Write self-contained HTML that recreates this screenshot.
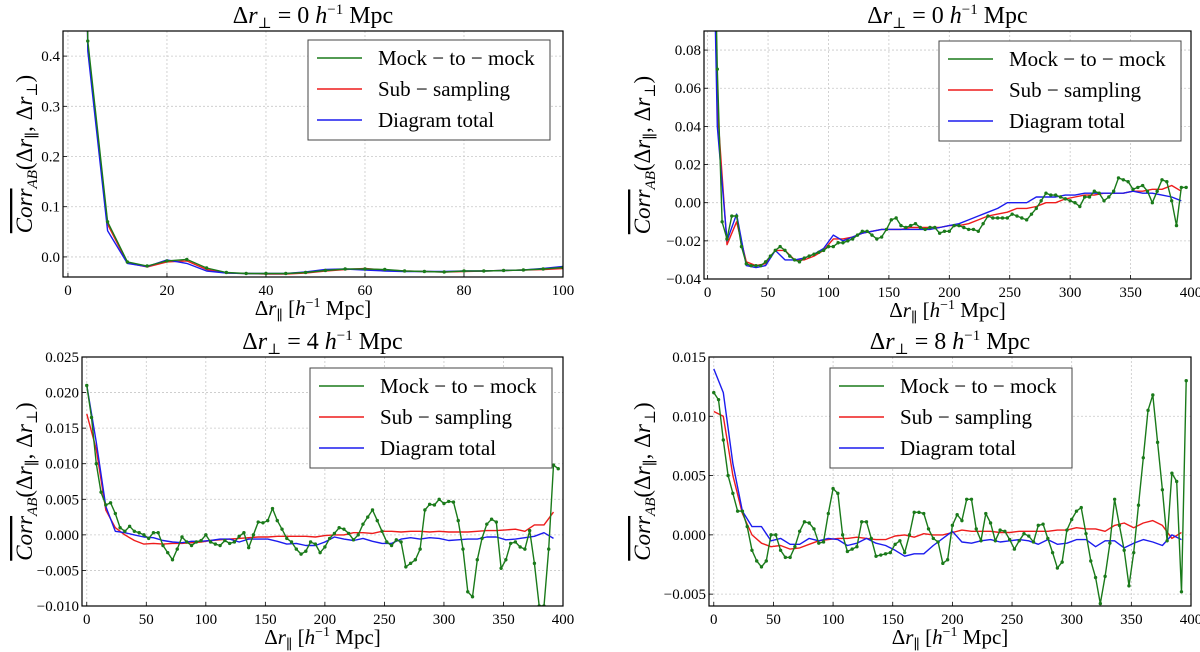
<!DOCTYPE html>
<html><head><meta charset="utf-8"><style>
html,body{margin:0;padding:0;background:#fff}
svg{display:block}
svg text, svg tspan{font-family:"Liberation Serif","DejaVu Serif",serif}
</style></head><body>
<svg id="fig" width="1200" height="652" viewBox="0 0 1200 652" xmlns="http://www.w3.org/2000/svg" font-family="'Liberation Serif', 'DejaVu Serif', serif"></svg>
<script>
// ---- Data (values in units of 1e-3) ----
const tlMock = [3000,430,70,-10,-18,-8,-5,-22,-31,-33,-33,-33,-31,-27,-24,-24,-25,-28,-29,-30,-28,-28,-27,-26,-24,-21];
const tlSub  = [3000,420,65,-12,-20,-10,-8,-25,-32,-33,-34,-34,-32,-28,-25,-23,-26,-28,-29,-30,-29,-28,-27,-26,-25,-23];
const tlDiag = [3000,410,52,-13,-19,-6,-13,-28,-32,-33,-33,-33,-30,-25,-24,-26,-28,-29,-29,-29,-28,-28,-27,-26,-23,-19];
const trMock = [300,200,70,-10,-19,-7,-7,-23,-32,-33,-33,-33,-31,-28,-25,-23,-25,-28,-30,-31,-29,-28,-27,-26,-25,-23,-23,-21,-21,-20,-19,-17,-15,-15,-17,-19,-18,-14,-9,-8,-12,-13,-12,-11,-13,-14,-13,-13,-16,-15,-15,-12,-12,-13,-14,-14,-15,-11,-7,-8,-8,-8,-8,-6,-7,-8,-9,-6,-3,1,5,4,4,3,2,1,0,-2,3,3,6,5,1,3,6,13,12,11,7,8,9,6,0,6,12,11,1,-12,8,8];
const trSub  = [300,50,-22,-10,-31,-33,-32,-25,-25,-30,-30,-28,-25,-19,-19,-18,-16,-15,-14,-14,-14,-13,-13,-13,-13,-12,-12,-11,-9,-7,-6,-5,-3,-3,-2,0,0,2,3,4,4,5,5,5,6,6,7,7,9,6];
const trDiag = [300,40,-20,-6,-33,-34,-33,-25,-30,-30,-29,-27,-24,-17,-20,-18,-16,-15,-14,-14,-14,-14,-14,-14,-13,-12,-11,-9,-7,-5,-3,0,0,0,3,3,3,4,4,5,5,5,5,5,6,5,5,4,3,1];
const blMock = [21,16.5,10,6,4.2,4.5,3,1,0.5,1.2,0.5,0.3,0,-0.5,0.3,0.3,-1.5,-2.5,-3.5,-2,-0.3,-1,-1.5,-1,-0.8,0,-1,-1.3,-1.5,-0.8,-1.2,-1,-0.2,0.3,-1.8,0,1.8,1.7,2,3.7,2,0.8,-0.5,-1,-2,-2.7,-2.3,-1,-1.3,-2.5,-1.7,-0.5,0.2,1,0.8,0.2,-0.7,0,1.5,2.5,3.5,2,0.5,-1,-1.5,-0.7,-1,-4.5,-4,-3.5,-2,3.5,4.3,4.2,5,4.4,4.7,4.6,2,-2,-8,-8.7,-3.5,-0.5,1.5,2.2,1.8,-4.7,-3.5,-1.2,-1,-1.7,-2,0.6,-4,-10,-10,-2,9.8,9.3];
const blSub  = [17,12,3.5,1,0,-0.8,-1.3,-1.2,-1.3,-1.2,-1.2,-1.1,-1,-0.8,-0.7,-0.6,-0.5,-0.4,-0.3,-0.3,-0.2,-0.2,-0.2,-0.2,-0.3,-0.1,0,0,0.3,0.3,0.2,0.5,0.5,0.4,0.5,0.5,0.4,0.5,0.4,0.4,0.4,0.5,0.6,0.6,0.7,0.8,0.5,1.4,1.4,3.2];
const blDiag = [21,13,4,0.5,0.3,0,-0.3,-0.4,-0.8,-1,-1.1,-0.9,-0.9,-0.8,-0.6,-0.6,-1,-0.6,-0.6,-0.6,-0.9,-1.3,-1.2,-1.5,-1.5,-1.0,-0.3,-0.6,-0.8,-0.5,-0.9,-1.2,-1.2,-0.6,-0.4,-0.6,-0.4,-0.5,-0.8,-0.7,-0.6,-0.6,-0.3,-0.3,-0.7,-0.6,-0.4,-0.2,0.3,-0.5];
const brMock = [12,11.4,8,5,3.5,2,2,0.7,-1.3,-2.2,-2.7,-2.2,0,0,-1.3,-1.9,-1.9,-1,0.3,1.1,1,0.5,-0.7,-0.6,1.8,3.9,3.5,0,-1.4,-1.2,-1,1.1,1.1,-0.3,-1.8,-1.7,-1.6,-1.5,-0.8,-0.5,-1.5,0,1.9,1.9,1.8,0.5,-0.3,-0.6,-2.4,-2.1,0.8,1.7,1.2,3,3,0.5,-0.5,1.8,1,-0.5,0.4,0.3,-0.4,-1.2,-0.5,0.1,-0.1,-0.6,0.8,0.9,-0.3,-1.5,-2.8,-2.3,0.4,1.3,2,2.3,0.1,-2.2,-3.6,-5.8,-3.5,-0.7,3,0.8,-1.3,-4.3,-1.5,2.5,6.5,10.5,11.8,7.8,3.8,-0.5,5.2,4.5,-4.8,13];
const brSub  = [10.4,10,5,1.8,0,-0.7,-1,-0.9,-1.2,-1.1,-0.8,-0.5,-0.4,-0.3,-0.3,-0.2,-0.3,-0.4,-0.4,-0.1,0,-0.2,0.1,0,0,0.2,0.4,0.3,0.3,0.3,0.2,0.2,0.3,0.3,0.3,0.3,0.4,0.4,0.6,0.5,0.5,0.3,0.8,1,0.6,1,1.2,0.8,-0.3,0.2];
const brDiag = [14,12,6,2,0.7,0.7,-0.5,-0.3,-0.8,-0.8,-0.3,-0.5,-0.3,-0.4,-0.9,-0.7,-0.3,-0.7,-0.9,-1.3,-1.8,-1.6,-1.6,-0.9,-0.3,0.3,-0.6,-0.7,-0.5,-0.4,-0.6,-0.5,-0.4,-0.5,-0.8,-0.4,-0.8,-0.7,-0.4,-0.4,-1,-0.5,-0.5,-1.1,-0.7,-0.4,-0.6,-0.9,0,-0.4];
const tlXTicks = [0,20,40,60,80,100];
const tlYTicks = ["0.0","0.1","0.2","0.3","0.4"];
const wideXTicks = [0,50,100,150,200,250,300,350,400];
const trYTicks = ["−0.04","−0.02","0.00","0.02","0.04","0.06","0.08"];
const blYTicks = ["−0.010","−0.005","0.000","0.005","0.010","0.015","0.020","0.025"];
const brYTicks = ["−0.005","0.000","0.005","0.010","0.015"];
const titles = ["0","0","4","8"];
const legendLabels = ["Mock − to − mock","Sub − sampling","Diagram total"];

const NS="http://www.w3.org/2000/svg";
const FF="'Liberation Serif','DejaVu Serif',serif";
const svg=document.getElementById('fig');
function mk(tag,attrs,parent){const e=document.createElementNS(NS,tag);for(const k in attrs)e.setAttribute(k,attrs[k]);if(tag==='text')e.setAttribute('font-family',FF);(parent||svg).appendChild(e);return e;}

const panels=[
 {id:'tl',L:63,R:563,T:31,B:277,x0:-1,x1:100,y0:-0.04,y1:0.45,xt:tlXTicks,yt:tlYTicks,mock:tlMock,sub:tlSub,diag:tlDiag,ms:4,ss:4,lg:[308,40],yl:24,title:titles[0]},
 {id:'tr',L:704,R:1191,T:31,B:279,x0:-3,x1:400,y0:-0.04,y1:0.09,xt:wideXTicks,yt:trYTicks,mock:trMock,sub:trSub,diag:trDiag,ms:4,ss:8,lg:[939,41],yl:642,title:titles[1]},
 {id:'bl',L:82,R:563,T:357,B:606,x0:-4,x1:400,y0:-0.010,y1:0.025,xt:wideXTicks,yt:blYTicks,mock:blMock,sub:blSub,diag:blDiag,ms:4,ss:8,lg:[310,368],yl:24,title:titles[2]},
 {id:'br',L:709,R:1191,T:357,B:606,x0:-4,x1:400,y0:-0.006,y1:0.015,xt:wideXTicks,yt:brYTicks,mock:brMock,sub:brSub,diag:brDiag,ms:4,ss:8,lg:[830,368],yl:642,title:titles[3]}
];

panels.forEach(p=>{
 const g=mk('g',{});
 
 
 const sx=v=>p.L+(v-p.x0)/(p.x1-p.x0)*(p.R-p.L);
 const sy=v=>p.B-(v-p.y0)/(p.y1-p.y0)*(p.B-p.T);
 const cp=mk('clipPath',{id:'c'+p.id},g);
 mk('rect',{x:p.L,y:p.T,width:p.R-p.L,height:p.B-p.T},cp);
 p.xt.forEach(t=>{
  const x=sx(t);
  const gl=mk('line',{x1:x,x2:x,y1:p.T,y2:p.B,stroke:'#c8c8c8','stroke-dasharray':'2,2','stroke-width':0.8},g);
  
  
  mk('line',{x1:x,x2:x,y1:p.B,y2:p.B-4,stroke:'#000','stroke-width':0.8},g);
  const tx=mk('text',{x:x,y:p.B+18,'text-anchor':'middle','font-size':15},g);
  tx.textContent=t;
  
  
 });
 p.yt.forEach((lab,i)=>{
  const v=parseFloat(lab.replace('−','-'));
  const y=sy(v);
  const gl=mk('line',{x1:p.L,x2:p.R,y1:y,y2:y,stroke:'#c8c8c8','stroke-dasharray':'2,2','stroke-width':0.8},g);
  
  
  mk('line',{x1:p.L,x2:p.L+4,y1:y,y2:y,stroke:'#000','stroke-width':0.8},g);
  const tx=mk('text',{x:p.L-3,y:y+5,'text-anchor':'end','font-size':15},g);
  tx.textContent=lab;
  
  
 });
 const series=[[p.sub,p.ss,'#ee1c1c','sub-sampling-line'],[p.diag,p.ss,'#1c1cee','diagram-total-line'],[p.mock,p.ms,'#1a7a1a','mock-to-mock-line']];
 const sg=mk('g',{'clip-path':'url(#c'+p.id+')'},g);
 series.forEach(([arr,step,col,name])=>{
  const pts=arr.map((v,i)=>sx(i*step).toFixed(1)+','+sy(v/1000).toFixed(1)).join(' ');
  const pl=mk('polyline',{points:pts,fill:'none',stroke:col,'stroke-width':1.4,'stroke-linejoin':'round'},sg);
  
  
  if(name==='mock-to-mock-line'){
   arr.forEach((v,i)=>{
    const c=mk('circle',{cx:sx(i*step),cy:sy(v/1000),r:1.7,fill:col},sg);
    
    
   });
  }
 });
 const fr=mk('rect',{x:p.L,y:p.T,width:p.R-p.L,height:p.B-p.T,fill:'none',stroke:'#000','stroke-width':1.2},g);
 
 
 const cx=(p.L+p.R)/2;
 const tt=mk('text',{x:cx,y:p.T-8,'text-anchor':'middle','font-size':24},g);
 tt.innerHTML='Δ<tspan font-style="italic">r</tspan><tspan font-size="15" dy="5">⊥</tspan><tspan dy="-5"> = '+p.title+' </tspan><tspan font-style="italic">h</tspan><tspan font-size="15" dy="-9">−1</tspan><tspan dy="9"> Mpc</tspan>';
 
 
 const xl=mk('text',{x:cx,y:p.B+38,'text-anchor':'middle','font-size':21},g);
 xl.innerHTML='Δ<tspan font-style="italic">r</tspan><tspan font-size="14" dy="5">∥</tspan><tspan dy="-5"> [</tspan><tspan font-style="italic">h</tspan><tspan font-size="14" dy="-8">−1</tspan><tspan dy="8"> Mpc]</tspan>';
 
 
 const cy=(p.T+p.B)/2;
 const yl=mk('text',{x:0,y:0,'text-anchor':'middle','font-size':23,transform:'translate('+(p.yl+8)+','+cy+') rotate(-90)'},g);
 yl.innerHTML='<tspan font-style="italic" text-decoration="overline">Corr</tspan><tspan font-style="italic" font-size="15" dy="5">AB</tspan><tspan dy="-5">(Δ</tspan><tspan font-style="italic">r</tspan><tspan font-size="15" dy="5">∥</tspan><tspan dy="-5">, Δ</tspan><tspan font-style="italic">r</tspan><tspan font-size="15" dy="5">⊥</tspan><tspan dy="-5">)</tspan>';
 
 
 const [lx,ly]=p.lg;
 const lgG=mk('g',{},g);
 
 
 mk('rect',{x:lx,y:ly,width:242,height:100,fill:'#fff',stroke:'#444','stroke-width':1},lgG);
 const cols=['#1a7a1a','#ee1c1c','#1c1cee'];
 legendLabels.forEach((lab,i)=>{
  const yy=ly+18+i*31;
  mk('line',{x1:lx+9,x2:lx+54,y1:yy,y2:yy,stroke:cols[i],'stroke-width':1.4},lgG);
  const t=mk('text',{x:lx+70,y:yy+7,'font-size':21},lgG);
  t.textContent=lab;
  
  
 });
});
</script>
</body></html>
